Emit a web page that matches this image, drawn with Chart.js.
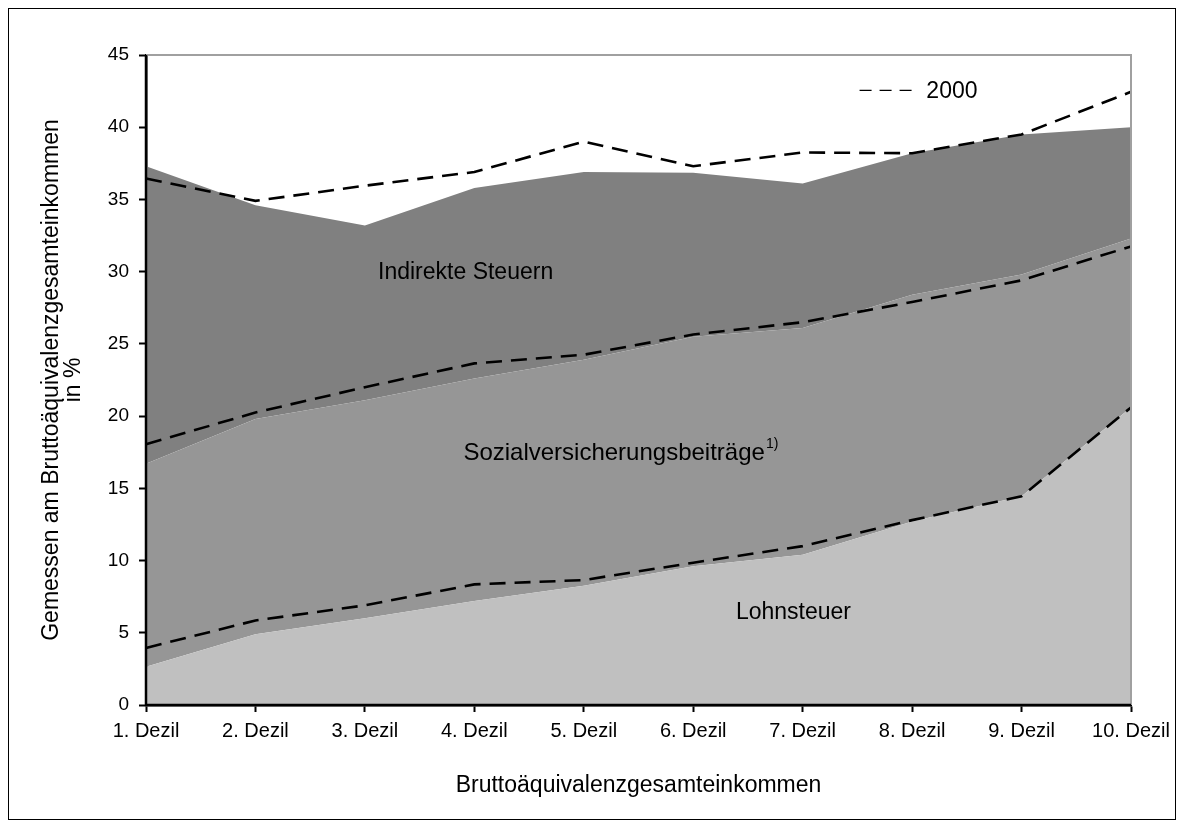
<!DOCTYPE html>
<html lang="de">
<head>
<meta charset="UTF-8">
<title>Abgaben nach Dezilen</title>
<script src="https://cdn.jsdelivr.net/npm/chart.js"></script>
<style>
    html, body {
        margin: 0;
        padding: 0;
        background: #fff;
    }

    .chart-box {
        position: absolute;
        left: 0;
        top: 0;
        width: 1183px;
        height: 827px;
    }

    .frame {
        position: absolute;
        left: 8px;
        top: 8px;
        width: 1166px;
        height: 810px;
        border: 1px solid #000;
        pointer-events: none;
    }
</style>
</head>
<body>
<div class="chart-box"><canvas id="chart"></canvas></div>
<div class="frame"></div>

<script>
    // Daten (Anteile am Bruttoäquivalenzgesamteinkommen in %)
    const categories = ['1. Dezil', '2. Dezil', '3. Dezil', '4. Dezil', '5. Dezil',
        '6. Dezil', '7. Dezil', '8. Dezil', '9. Dezil', '10. Dezil'];
    const yTicks = [0, 5, 10, 15, 20, 25, 30, 35, 40, 45];

    // gestapelte Flächen
    const lohnsteuer = [2.65, 4.9, 6.0, 7.2, 8.25, 9.6, 10.4, 12.7, 14.45, 20.6];
    const sozialbeitraege = [14.05, 14.9, 15.1, 15.4, 15.65, 15.9, 15.7, 15.7, 15.35, 11.7];
    const indirekteSteuern = [20.6, 14.8, 12.1, 13.2, 13.0, 11.35, 10.0, 9.8, 9.7, 7.7];

    // 2000 (kumulierte Linien)
    const lohn2000 = [3.95, 5.85, 6.9, 8.35, 8.65, 9.85, 11.0, 12.8, 14.45, 20.6];
    const lohnSozial2000 = [18.05, 20.25, 22.0, 23.65, 24.25, 25.65, 26.5, 27.9, 29.4, 31.75];
    const gesamt2000 = [36.45, 34.9, 35.95, 36.9, 39.0, 37.3, 38.25, 38.2, 39.5, 42.45];

    const FONT = "'Liberation Sans', Arial, sans-serif";

    function area(label, data, color, fill) {
        return {
            label: label, data: data, stack: 'flaechen', order: 1,
            backgroundColor: color, borderWidth: 0, fill: fill,
            pointRadius: 0, tension: 0
        };
    }

    function dashed(label, data, stack) {
        return {
            label: label, data: data, stack: stack, order: 0,
            borderColor: '#000', borderWidth: 2.6, borderDash: [16, 9],
            fill: false, pointRadius: 0, tension: 0
        };
    }

    // Achsenlinien über den Flächen, Rahmen oben/rechts, Beschriftungen, Legende
    const decorations = {
        id: 'decorations',
        afterDraw(chart) {
            const { ctx, chartArea: a, scales: { x, y } } = chart;
            ctx.save();

            ctx.strokeStyle = '#a0a0a0';
            ctx.lineWidth = 2;
            ctx.beginPath();
            ctx.moveTo(a.left, a.top);
            ctx.lineTo(a.right, a.top);
            ctx.lineTo(a.right, a.bottom);
            ctx.stroke();

            ctx.strokeStyle = '#000';
            ctx.lineWidth = 2.5;
            ctx.beginPath();
            ctx.moveTo(a.left, a.top);
            ctx.lineTo(a.left, a.bottom);
            ctx.lineTo(a.right, a.bottom);
            ctx.stroke();

            ctx.fillStyle = '#000';
            ctx.textBaseline = 'alphabetic';
            ctx.textAlign = 'left';
            ctx.font = '23px ' + FONT;
            ctx.fillText('Indirekte Steuern', x.getPixelForValue(2.12), y.getPixelForValue(29.5));
            ctx.fillText('Lohnsteuer', x.getPixelForValue(5.39), y.getPixelForValue(5.96));

            const sx = x.getPixelForValue(2.9), sy = y.getPixelForValue(16.97);
            const sozText = 'Sozialversicherungsbeiträge';
            ctx.font = '24px ' + FONT;
            ctx.fillText(sozText, sx, sy);
            const w = ctx.measureText(sozText).width;
            ctx.font = '14px ' + FONT;
            ctx.fillText('1)', sx + w + 1, sy - 12);

            // Legende
            const ly = y.getPixelForValue(42.55);
            ctx.lineWidth = 1.4;
            ctx.setLineDash([12, 8]);
            ctx.beginPath();
            ctx.moveTo(x.getPixelForValue(6.52), ly);
            ctx.lineTo(x.getPixelForValue(7.0), ly);
            ctx.stroke();
            ctx.setLineDash([]);
            ctx.textBaseline = 'middle';
            ctx.font = '23px ' + FONT;
            ctx.fillText('2000', x.getPixelForValue(7.13), ly + 1);
            ctx.restore();
        }
    };

    new Chart(document.getElementById('chart'), {
        type: 'line',
        data: {
            labels: categories,
            datasets: [
                area('Lohnsteuer', lohnsteuer, '#c0c0c0', 'origin'),
                area('Sozialversicherungsbeiträge', sozialbeitraege, '#969696', '-1'),
                area('Indirekte Steuern', indirekteSteuern, '#808080', '-1'),
                dashed('Lohnsteuer 2000', lohn2000, 'a2000'),
                dashed('Sozialversicherung 2000', lohnSozial2000, 'b2000'),
                dashed('Gesamt 2000', gesamt2000, 'c2000')
            ]
        },
        options: {
            responsive: true,
            maintainAspectRatio: false,
            animation: false,
            layout: { padding: { left: 0, top: 55, right: 52, bottom: 0 } },
            plugins: {
                legend: { display: false },
                tooltip: { enabled: false }
            },
            scales: {
                x: {
                    offset: false,
                    grid: { drawOnChartArea: false, tickLength: 7, tickColor: '#000', tickWidth: 2 },
                    border: { color: '#000', width: 2.5 },
                    ticks: { color: '#000', font: { family: FONT, size: 20 }, padding: 7, maxRotation: 0, autoSkip: false },
                    title: {
                        display: true, text: 'Bruttoäquivalenzgesamteinkommen', color: '#000',
                        font: { family: FONT, size: 23 }, padding: { top: 0, bottom: 28 }
                    },
                    afterFit: s => { s.height = 122; }
                },
                y: {
                    stacked: true,
                    min: 0, max: 45,
                    afterBuildTicks: s => { s.ticks = yTicks.map(v => ({ value: v })); },
                    grid: { drawOnChartArea: false, tickLength: 7, tickColor: '#000', tickWidth: 2 },
                    border: { color: '#000', width: 2.5 },
                    ticks: { color: '#000', font: { family: FONT, size: 19 }, padding: 10 },
                    title: {
                        display: true,
                        text: ['Gemessen am Bruttoäquivalenzgesamteinkommen', 'in %'],
                        color: '#000',
                        font: { family: FONT, size: 23, lineHeight: 0.95 },
                        padding: { top: 41, bottom: 0 }
                    },
                    afterFit: s => { s.width = 146; }
                }
            }
        },
        plugins: [decorations]
    });
</script>
</body>
</html>
